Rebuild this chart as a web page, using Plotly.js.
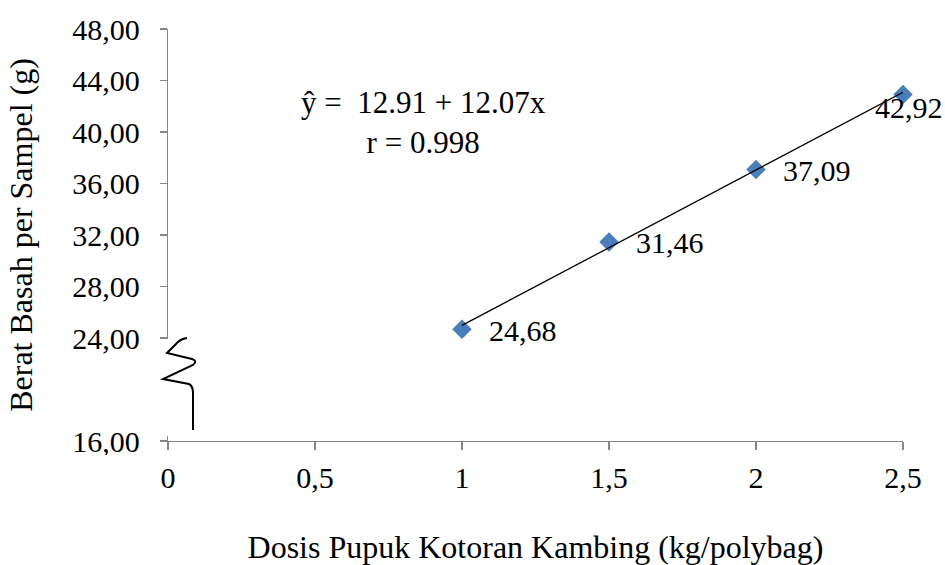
<!DOCTYPE html>
<html>
<head>
<meta charset="utf-8">
<script src="https://cdn.plot.ly/plotly-3.0.1.min.js"></script>
<style>
  html, body { margin: 0; padding: 0; background: #ffffff; }
  #chart { width: 945px; height: 565px; }
</style>
</head>
<body>
<div id="chart"></div>
<script>
// ---- data ----
const doses = [1, 1.5, 2, 2.5];                 // kg/polybag
const weights = [24.68, 31.46, 37.09, 42.92];   // g
const xTickVals = [0, 0.5, 1, 1.5, 2, 2.5];
const xTickText = ["0", "0,5", "1", "1,5", "2", "2,5"];
const yTickVals = [16, 24, 28, 32, 36, 40, 44, 48];
const yTickText = ["16,00", "24,00", "28,00", "32,00", "36,00", "40,00", "44,00", "48,00"];
const intercept = 12.91;
const slope = 12.07;
const rValue = 0.998;

// ---- layout constants (pixels) ----
const W = 945, H = 565;
const M = { l: 168, r: 42, t: 29, b: 124 };
const plotW = W - M.l - M.r, plotH = H - M.t - M.b;
const FONT = "'Liberation Serif', 'Times New Roman', serif";
const AXIS_GRAY = "#868686";

// pixel -> paper coordinates (for decorations only)
function px(x) { return ((x - M.l) / plotW).toFixed(5); }
function py(y) { return ((H - M.b - y) / plotH).toFixed(5); }
function P(x, y) { return px(x) + "," + py(y); }

const fmt = v => v.toFixed(2).replace(".", ",");

// trend line endpoints from the regression coefficients
const trendX = [doses[0], doses[doses.length - 1]];
const trendY = trendX.map(x => intercept + slope * x);

const traces = [
  {
    x: doses, y: weights, type: "scatter", mode: "markers",
    marker: { symbol: "diamond", size: 15, color: "#4A7EBB" },
    cliponaxis: false,
    hoverinfo: "x+y", showlegend: false
  },
  {
    x: trendX, y: trendY, type: "scatter", mode: "lines",
    line: { color: "#000000", width: 1.3 },
    cliponaxis: false,
    hoverinfo: "skip", showlegend: false
  }
];

// data labels
const annotations = doses.map((d, i) => {
  const last = i === doses.length - 1;
  return {
    x: d, y: weights[i], xref: "x", yref: "y",
    text: fmt(weights[i]), showarrow: false,
    xanchor: "left", yanchor: "middle",
    xshift: last ? -30 : 25, yshift: last ? -13 : -1,
    font: { family: FONT, size: 30, color: "#000000" }
  };
});

// regression equation
annotations.push({
  x: 0.347, y: 0.774, xref: "paper", yref: "paper",
  text: "ŷ = \u00a0" + intercept.toFixed(2) + " + " + slope.toFixed(2) + "x<br>r = " + rValue.toFixed(3),
  showarrow: false, xanchor: "center", yanchor: "middle", align: "center",
  font: { family: FONT, size: 31, color: "#000000" }
});

// axis break: white mask + squiggle
const squiggle = "M " + P(187, 338) +
  " Q " + P(180, 339) + " " + P(176, 344) +
  " L " + P(167, 353) +
  " L " + P(192, 359) +
  " Q " + P(198, 361) + " " + P(193, 365) +
  " L " + P(163, 379) +
  " L " + P(189, 384) +
  " Q " + P(193, 386) + " " + P(193, 393) +
  " L " + P(193, 430);

const shapes = [
  { type: "rect", xref: "paper", yref: "paper", layer: "above",
    x0: px(150), x1: px(205), y0: py(436), y1: py(339),
    fillcolor: "#ffffff", line: { width: 0 } },
  { type: "rect", xref: "paper", yref: "paper", layer: "above",
    x0: px(60), x1: px(150), y0: py(462), y1: py(455),
    fillcolor: "#ffffff", line: { width: 0 } },
  { type: "path", xref: "paper", yref: "paper", layer: "above",
    path: squiggle, line: { color: "#000000", width: 2 } }
];

const layout = {
  width: W, height: H,
  margin: M,
  paper_bgcolor: "#ffffff", plot_bgcolor: "#ffffff",
  showlegend: false,
  font: { family: FONT, color: "#000000" },
  xaxis: {
    range: [0, 2.5], fixedrange: true,
    tickmode: "array", tickvals: xTickVals, ticktext: xTickText,
    showgrid: false, zeroline: false,
    showline: true, linecolor: AXIS_GRAY, linewidth: 1.3,
    ticks: "outside", ticklen: 8, tickcolor: AXIS_GRAY, tickwidth: 1.3,
    ticklabelstandoff: 2,
    tickfont: { family: FONT, size: 30, color: "#000000" },
    title: { text: "Dosis Pupuk Kotoran Kambing (kg/polybag)",
             font: { family: FONT, size: 32, color: "#000000" }, standoff: 50 }
  },
  yaxis: {
    range: [16, 48], fixedrange: true,
    tickmode: "array", tickvals: yTickVals, ticktext: yTickText,
    showgrid: false, zeroline: false,
    showline: true, linecolor: AXIS_GRAY, linewidth: 1.3,
    ticks: "outside", ticklen: 7, tickcolor: AXIS_GRAY, tickwidth: 1.3,
    ticklabelstandoff: 14,
    tickfont: { family: FONT, size: 30, color: "#000000" },
    title: { text: "Berat Basah per Sampel (g)",
             font: { family: FONT, size: 32, color: "#000000" }, standoff: 30 }
  },
  annotations: annotations,
  shapes: shapes
};

Plotly.newPlot("chart", traces, layout, { displayModeBar: false, staticPlot: true });
</script>
</body>
</html>
